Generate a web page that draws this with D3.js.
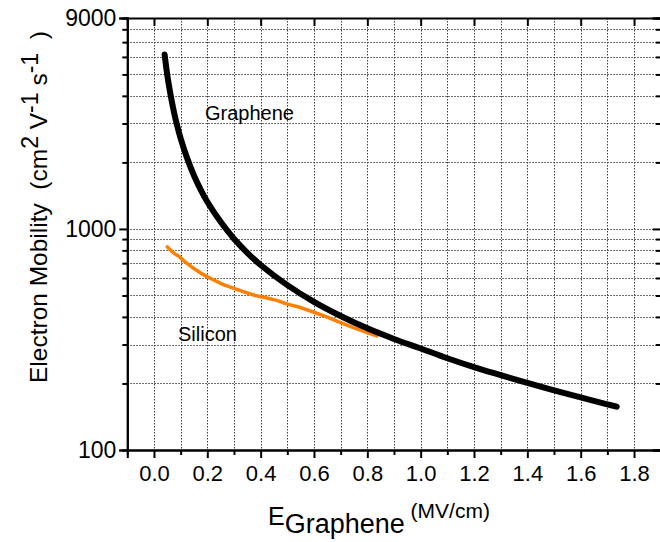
<!DOCTYPE html>
<html>
<head>
<meta charset="utf-8">
<script src="https://cdn.jsdelivr.net/npm/d3@7"></script>
<style>
  body { margin: 0; background: #fff; }
  text { font-family: 'Liberation Sans', Arial, sans-serif; fill: #000; }
</style>
</head>
<body>
<div id="chart"></div>
<script>
// Graphene curve
let grapheneField = [0.04, 0.05, 0.0625, 0.075, 0.085, 0.1, 0.125, 0.15, 0.175, 0.2, 0.25, 0.3, 0.35, 0.4,
    0.5, 0.6, 0.7, 0.8, 0.9, 1.0, 1.1, 1.2, 1.3, 1.4, 1.5, 1.6, 1.7, 1.735];
let grapheneMobility = [6150, 4960, 4030, 3380, 3000, 2570, 2080, 1745, 1507, 1328, 1077, 903, 780, 687,
    557, 468, 404, 355, 318, 288, 260, 237, 218, 201, 186, 173, 161, 157];

// Silicon curve (a bit noisy in the original)
let siliconField = [0.05, 0.058, 0.068, 0.08, 0.09, 0.1, 0.115, 0.13, 0.15, 0.175, 0.2, 0.23, 0.26, 0.3,
    0.34, 0.38, 0.42, 0.46, 0.5, 0.55, 0.6, 0.65, 0.7, 0.75, 0.8, 0.835];
let siliconMobility = [830, 810, 790, 768, 758, 740, 712, 690, 662, 632, 607, 583, 560, 538,
    518, 500, 488, 475, 457, 441, 420, 399, 377, 357, 340, 328];

// tick values
let xMajorTicks = [0, 0.2, 0.4, 0.6, 0.8, 1.0, 1.2, 1.4, 1.6, 1.8];
let xMinorTicks = [0.1, 0.3, 0.5, 0.7, 0.9, 1.1, 1.3, 1.5, 1.7];
let yMajorTicks = [100, 1000, 9000];
let yMinorTicks = [200, 300, 400, 500, 600, 700, 800, 900, 2000, 3000, 4000, 5000, 6000, 7000, 8000];

let width = 660;
let height = 542;

let svg = d3.select('#chart')
    .append('svg')
    .attr('width', width)
    .attr('height', height);

// plot box (right edge sits just outside the window, like the original)
let boxLeft = 127.3, boxRight = 660.7, boxTop = 18, boxBottom = 450;

let x = d3.scaleLinear().domain([-0.1, 1.9]).range([boxLeft, boxRight]);
let y = d3.scaleLog().domain([100, 9000]).range([boxBottom, boxTop]);

// dotted grid
let grid = svg.append('g')
    .attr('stroke', '#000')
    .attr('stroke-width', 1)
    .attr('stroke-dasharray', '1.5,1.5')
    .attr('opacity', 0.75);

grid.selectAll('.vgrid')
    .data(xMajorTicks.concat(xMinorTicks))
    .enter()
    .append('line')
    .attr('x1', d => Math.round(x(d)) + 0.5)
    .attr('x2', d => Math.round(x(d)) + 0.5)
    .attr('y1', boxTop)
    .attr('y2', boxBottom);

grid.selectAll('.hgrid')
    .data(yMinorTicks.concat([1000]))
    .enter()
    .append('line')
    .attr('y1', d => Math.round(y(d)) + 0.5)
    .attr('y2', d => Math.round(y(d)) + 0.5)
    .attr('x1', boxLeft)
    .attr('x2', boxRight);

// axes: major ticks 8px, minor 5px
let axisBottom = svg.append('g')
    .attr('transform', `translate(0,${boxBottom})`)
    .call(d3.axisBottom(x).tickValues(xMajorTicks).tickSize(8).tickFormat(d3.format('.1f')));
svg.append('g')
    .attr('transform', `translate(0,${boxBottom})`)
    .call(d3.axisBottom(x).tickValues(xMinorTicks).tickSize(5).tickFormat(''));

let axisLeft = svg.append('g')
    .attr('transform', `translate(${boxLeft},0)`)
    .call(d3.axisLeft(y).tickValues(yMajorTicks).tickSize(8).tickFormat(d3.format('d')));
svg.append('g')
    .attr('transform', `translate(${boxLeft},0)`)
    .call(d3.axisLeft(y).tickValues(yMinorTicks).tickSize(5).tickFormat(''));

// top and right axes, ticks pointing inward
svg.append('g')
    .attr('transform', `translate(0,${boxTop})`)
    .call(d3.axisBottom(x).tickValues(xMajorTicks).tickSize(8).tickFormat(''));
svg.append('g')
    .attr('transform', `translate(${boxRight},0)`)
    .call(d3.axisLeft(y).tickValues(yMajorTicks).tickSize(8).tickFormat(''));
svg.append('g')
    .attr('transform', `translate(${boxRight},0)`)
    .call(d3.axisLeft(y).tickValues(yMinorTicks).tickSize(5).tickFormat(''));

svg.selectAll('.domain')
    .attr('stroke', '#000')
    .attr('stroke-width', 2);
svg.selectAll('.tick line')
    .attr('stroke', '#000')
    .attr('stroke-width', 2);

axisBottom.selectAll('text')
    .attr('y', 15)
    .style('font-size', '22px');
axisLeft.selectAll('text')
    .attr('x', -11)
    .style('font-size', '23px');

// curves
let smooth = d3.line()
    .x(d => x(d[0]))
    .y(d => y(d[1]))
    .curve(d3.curveCatmullRom);

let rough = d3.line()
    .x(d => x(d[0]))
    .y(d => y(d[1]));

svg.append('path')
    .datum(siliconField.map((f, i) => [f, siliconMobility[i]]))
    .attr('d', rough)
    .attr('fill', 'none')
    .attr('stroke', '#ff8000')
    .attr('stroke-width', 3.5)
    .attr('stroke-linejoin', 'round')
    .attr('stroke-linecap', 'round');

svg.append('path')
    .datum(grapheneField.map((f, i) => [f, grapheneMobility[i]]))
    .attr('d', smooth)
    .attr('fill', 'none')
    .attr('stroke', '#000')
    .attr('stroke-width', 6)
    .attr('stroke-linecap', 'round');

// curve labels
svg.append('text')
    .text('Graphene')
    .attr('x', 205)
    .attr('y', 120)
    .style('font-size', '20px');

svg.append('text')
    .text('Silicon')
    .attr('x', 178)
    .attr('y', 341)
    .style('font-size', '20px');

// x title: E with subscript Graphene, then (MV/cm) raised
let xTitle = svg.append('text')
    .attr('x', 268)
    .attr('y', 525)
    .style('white-space', 'pre');
xTitle.append('tspan').text('E').style('font-size', '25px');
xTitle.append('tspan').text('Graphene').attr('dy', 8).style('font-size', '27px');
xTitle.append('tspan').text(' (MV/cm)').attr('dy', -15).style('font-size', '21px');

// y title, rotated
let yTitle = svg.append('text')
    .attr('transform', 'translate(47,383) rotate(-90)')
    .style('white-space', 'pre')
    .style('font-size', '24.5px');
yTitle.append('tspan').text('Electron Mobility  (cm');
yTitle.append('tspan').text('2').attr('dy', -9).style('font-size', '23px');
yTitle.append('tspan').text(' V').attr('dy', 9);
yTitle.append('tspan').text('-1').attr('dy', -9).style('font-size', '23px');
yTitle.append('tspan').text(' s').attr('dy', 9);
yTitle.append('tspan').text('-1').attr('dy', -9).style('font-size', '23px');
yTitle.append('tspan').text('  )').attr('dy', 9);
</script>
</body>
</html>
